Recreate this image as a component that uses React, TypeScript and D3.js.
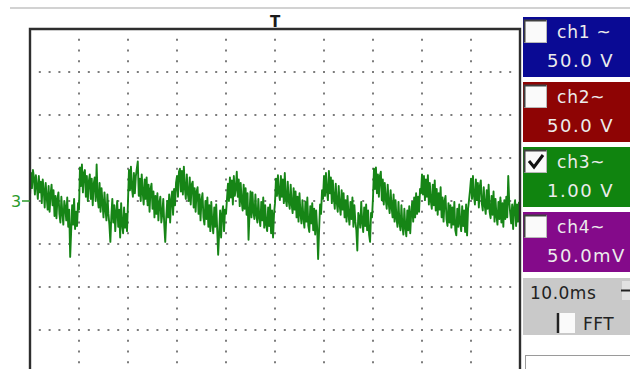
import { useRef, useEffect } from "react";
import * as d3 from "d3";

// ch3 trace, volts (1.00 V/div), one sample every 0.2 ms over 100 ms
const SAMPLE_MS = 0.2;
const CH3_VOLTS = [
  // 0-10 ms
  0.1, 0.65, 0.3, 0.72, 0.55, 0.15, 0.6, 0.35, 0.05, 0.58,
  0.2, 0.45, -0.05, 0.5, 0.25, -0.15, 0.42, 0.1, -0.2, 0.35,
  -0.25, 0.15, 0.38, -0.1, 0.25, -0.35, 0.12, -0.4, 0.05, 0.2,
  -0.3, -0.5, 0.1, -0.28, -0.55, 0.0, -0.15, -0.45, 0.08, -0.6,
  -0.2, -1.3, -0.7, -0.1, -0.55, 0.05, -0.65, -0.25, -0.58, -0.05,
  // 10-20 ms
  -0.2, 0.78, 0.35, 0.85, 0.2, 0.65, 0.72, 0.1, 0.58, 0.0,
  0.45, 0.62, 0.05, 0.52, -0.1, 0.4, 0.55, 0.0, 0.85, 0.1,
  -0.15, 0.42, -0.25, 0.3, -0.05, -0.38, 0.2, -0.2, -0.45, 0.15,
  -0.3, -0.55, -0.95, -0.35, 0.05, -0.5, -0.1, -0.7, -0.25, 0.0,
  -0.6, -0.2, -0.85, -0.05, -0.55, -0.75, -0.15, -0.62, -0.3, -0.7,
  // 20-30 ms
  0.0, 0.72, 0.25, 0.8, 0.3, 0.1, 0.65, 0.18, 0.58, 0.75,
  0.92, 0.12, 0.52, 0.0, 0.62, 0.2, -0.08, 0.5, 0.05, 0.55,
  -0.1, 0.38, -0.25, 0.28, 0.4, -0.18, 0.22, -0.38, 0.12, -0.3,
  0.18, -0.45, -0.05, 0.1, -0.5, -0.3, 0.05, -0.55, -0.95, -0.4,
  0.0, -0.38, 0.15, -0.5, 0.02, 0.22, -0.32, 0.28, -0.1, 0.42,
  // 30-40 ms
  0.58, 0.1, 0.68, 0.75, 0.22, 0.7, 0.15, 0.8, 0.3, 0.05,
  0.62, 0.18, 0.0, 0.55, -0.08, 0.38, 0.45, -0.15, 0.3, -0.25,
  0.22, 0.32, -0.3, 0.15, -0.45, 0.02, 0.18, -0.38, -0.55, 0.0,
  -0.42, 0.08, -0.6, -0.1, -0.7, -0.02, -0.5, -0.75, -0.15, -0.6,
  -0.08, -0.65, -1.25, -0.75, -0.22, -0.85, -0.3, -0.12, -0.7, -0.2,
  // 40-50 ms
  -0.3, 0.05, 0.4, 0.0, 0.55, 0.08, 0.48, -0.08, 0.58, 0.12,
  0.28, 0.68, 0.1, 0.5, -0.12, 0.42, 0.0, -0.22, 0.38, -0.18,
  0.3, -0.32, 0.18, -0.9, -0.28, 0.22, -0.38, 0.2, -0.25, -0.42,
  0.15, -0.32, -0.5, 0.05, -0.38, -0.58, -0.02, -0.45, 0.08, -0.62,
  -0.1, -0.55, -0.7, -0.15, -0.58, -0.08, -0.75, -0.22, -0.85, -0.3,
  // 50-60 ms
  -0.05, 0.52, 0.12, 0.6, 0.18, 0.02, 0.58, 0.1, 0.5, -0.05,
  0.65, 0.05, -0.12, 0.45, 0.0, -0.18, 0.38, -0.08, -0.28, 0.3,
  -0.2, 0.22, -0.38, 0.1, -0.48, 0.18, -0.3, -0.52, 0.02, -0.4,
  -0.62, -0.02, -0.48, 0.08, -0.58, -0.72, -0.12, -0.52, -0.05, -0.68,
  -0.18, -0.78, -0.22, -0.62, -1.35, -0.68, -0.08, -0.3, 0.25, 0.05,
  // 60-70 ms
  0.58, 0.12, 0.65, 0.22, 0.02, 0.7, 0.18, 0.55, -0.05, 0.48,
  0.08, -0.18, 0.4, -0.02, -0.25, 0.35, -0.1, -0.32, 0.25, -0.2,
  0.18, -0.38, 0.02, -0.48, 0.12, -0.32, -0.55, -0.02, -0.42, 0.08,
  -0.6, -0.1, -0.48, -0.68, -1.15, -0.28, -0.38, -0.62, -0.02, -0.5,
  -0.72, -0.15, -0.58, -0.08, -0.68, -0.22, -0.78, -0.95, -0.28, -0.38,
  // 70-80 ms
  0.08, 0.75, 0.28, 0.78, 0.18, 0.62, 0.1, 0.58, 0.68, 0.02,
  0.5, -0.08, 0.42, 0.05, -0.18, 0.38, -0.05, -0.28, 0.25, -0.15,
  -0.38, 0.15, -0.48, 0.02, -0.4, -0.6, -0.02, -0.5, -0.68, -0.1,
  -0.58, -0.78, -0.18, -0.62, -0.82, -0.22, -0.68, -0.12, -0.75, -0.28,
  -0.02, -0.48, 0.08, -0.38, 0.18, -0.3, 0.1, -0.25, 0.28, 0.18,
  // 80-90 ms
  0.62, 0.15, 0.58, 0.02, 0.5, 0.1, 0.6, -0.08, 0.42, 0.0,
  -0.18, 0.38, -0.1, 0.48, -0.22, 0.28, -0.32, 0.18, -0.2, 0.32,
  -0.38, 0.08, -0.48, 0.0, 0.12, -0.42, -0.58, -0.05, -0.5, -0.1,
  -0.62, -0.15, -0.55, -0.02, -0.68, -0.8, -0.18, -0.6, -0.08, -0.52,
  -0.7, -0.12, -0.58, -0.22, -0.72, -0.08, -0.8, -0.18, 0.02, 0.25,
  // 90-100 ms
  0.52, 0.05, 0.58, 0.12, -0.08, 0.5, 0.02, 0.42, -0.15, 0.35,
  0.48, -0.05, -0.22, 0.32, -0.1, -0.3, 0.25, -0.18, 0.38, -0.25,
  -0.4, 0.12, -0.32, 0.22, -0.48, 0.05, -0.35, -0.55, -0.02, -0.42,
  0.08, -0.5, -0.05, -0.6, 0.02, -0.42, 0.1, -0.38, 0.58, -0.02,
  -0.28, -0.52, -0.08, -0.65, -0.15, 0.02, -0.58, -0.08, -0.48, -0.02,
];

const CHANNEL_NAMES = ["ch1 ~", "ch2~", "ch3~", "ch4~"];
const CHANNEL_SCALES = ["50.0 V", "50.0 V", "1.00 V", "50.0mV"];
const CHANNEL_COLORS = ["#0a0a94", "#8e0404", "#10840f", "#840a8a"];
const CHANNEL_ON = [false, false, true, false];
const TIMEBASE = "10.0ms";

const TRACE = "#168516";
const FONT = "'DejaVu Sans', 'Liberation Sans', sans-serif";

export default function App() {
  const svgRef = useRef<SVGSVGElement>(null);

  useEffect(() => {
    if (!svgRef.current) return;
    const svg = d3.select(svgRef.current);
    svg.selectAll("*").remove();

    const left = 30;
    const right = 520;
    const top = 29;
    const bottom = 373;

    const x = d3.scaleLinear().domain([0, 100]).range([left, right]);
    const y = d3.scaleLinear().domain([-4, 4]).range([bottom, top]);

    svg.append("rect").attr("width", 630).attr("height", 369).attr("fill", "#fff");

    // top separator
    svg.append("line")
      .attr("x1", 10).attr("x2", 630).attr("y1", 8).attr("y2", 8)
      .attr("stroke", "#d2d2d2").attr("stroke-width", 2);

    // dotted grid
    const grid = svg.append("g").attr("fill", "#7c7c7c");
    const majorV = d3.range(-3, 4);
    const majorT = d3.range(10, 100, 10);
    const minorT = d3.range(2, 100, 2);
    const minorV = d3.range(-3.75, 4, 0.25);
    majorV.forEach((v) => {
      grid.selectAll(null)
        .data(minorT)
        .join("rect")
        .attr("x", (t) => x(t) - 1)
        .attr("y", y(v) - 1)
        .attr("width", 2)
        .attr("height", 2);
    });
    majorT.forEach((t) => {
      grid.selectAll(null)
        .data(minorV)
        .join("rect")
        .attr("x", x(t) - 1)
        .attr("y", (v) => y(v) - 1)
        .attr("width", 2)
        .attr("height", 2);
    });

    // trace
    const line = d3
      .line<number>()
      .x((_, i) => x(i * SAMPLE_MS))
      .y((v) => y(v));
    svg.append("path")
      .datum(CH3_VOLTS)
      .attr("d", line)
      .attr("fill", "none")
      .attr("stroke", TRACE)
      .attr("stroke-width", 1.9)
      .attr("stroke-linejoin", "round");

    // frame
    svg.append("path")
      .attr("d", `M${left},${bottom}V${top}H${right}V${bottom}`)
      .attr("fill", "none")
      .attr("stroke", "#2e2e2e")
      .attr("stroke-width", 2.4);

    // trigger marker
    svg.append("text")
      .attr("x", x(50))
      .attr("y", 27)
      .attr("text-anchor", "middle")
      .attr("font-family", FONT)
      .attr("font-weight", "bold")
      .attr("font-size", 15)
      .attr("fill", "#1a1a1a")
      .text("T");

    // channel 3 ground marker
    svg.append("text")
      .attr("x", 11)
      .attr("y", y(0) + 6)
      .attr("font-family", FONT)
      .attr("font-size", 16)
      .attr("fill", "#2a9a2a")
      .text("3");
    svg.append("line")
      .attr("x1", 22).attr("x2", left).attr("y1", y(0)).attr("y2", y(0))
      .attr("stroke", "#2a9a2a").attr("stroke-width", 1.5);

    // channel panel
    const px = 523;
    const pitch = 65;
    const boxH = 60;
    const panel = svg.append("g");
    CHANNEL_NAMES.forEach((name, i) => {
      const by = 17 + i * pitch;
      const g = panel.append("g").attr("transform", `translate(${px},${by})`);
      g.append("rect").attr("width", 110).attr("height", boxH).attr("fill", CHANNEL_COLORS[i]);
      g.append("rect")
        .attr("x", 1.5).attr("y", 3.5).attr("width", 22).attr("height", 22)
        .attr("fill", "#fafafa").attr("stroke", "#b8b8b8").attr("stroke-width", 1);
      g.append("path")
        .attr("d", "M1.5,25.5V3.5H23.5")
        .attr("fill", "none").attr("stroke", "#404040").attr("stroke-width", 2);
      if (CHANNEL_ON[i]) {
        g.append("path")
          .attr("d", "M6,14 L11,20 L20,8")
          .attr("fill", "none").attr("stroke", "#111").attr("stroke-width", 3);
      }
      g.append("text")
        .attr("x", 34).attr("y", 21)
        .attr("font-family", FONT).attr("font-size", 17)
        .attr("fill", "#ececec").attr("letter-spacing", 0.8)
        .text(name);
      g.append("text")
        .attr("x", 24).attr("y", 50)
        .attr("font-family", FONT).attr("font-size", 18)
        .attr("fill", "#ececec").attr("letter-spacing", 1.5)
        .text(CHANNEL_SCALES[i]);
    });

    // timebase box
    const tg = panel.append("g").attr("transform", `translate(${px},278)`);
    tg.append("rect").attr("width", 110).attr("height", 57).attr("fill", "#c9c9c9");
    tg.append("text")
      .attr("x", 7).attr("y", 21)
      .attr("font-family", FONT).attr("font-size", 17)
      .attr("fill", "#222").attr("letter-spacing", 0.5)
      .text(TIMEBASE);
    tg.append("rect")
      .attr("x", 36).attr("y", 35).attr("width", 16).attr("height", 20)
      .attr("fill", "#fafafa");
    tg.append("line")
      .attr("x1", 35).attr("x2", 35).attr("y1", 35).attr("y2", 55)
      .attr("stroke", "#222").attr("stroke-width", 2.5);
    tg.append("text")
      .attr("x", 60).attr("y", 52)
      .attr("font-family", FONT).attr("font-size", 17)
      .attr("fill", "#222").attr("letter-spacing", 0.5)
      .text("FFT");
    // spinner
    tg.append("rect").attr("x", 99).attr("y", 3).attr("width", 8).attr("height", 9).attr("fill", "#e2e2e2");
    tg.append("rect").attr("x", 99).attr("y", 13).attr("width", 8).attr("height", 9).attr("fill", "#e2e2e2");
    tg.append("line")
      .attr("x1", 98).attr("x2", 107).attr("y1", 12.5).attr("y2", 12.5)
      .attr("stroke", "#222").attr("stroke-width", 2);

    // lower field
    svg.append("rect")
      .attr("x", 525.5).attr("y", 355.5).attr("width", 110).attr("height", 20)
      .attr("fill", "#fff").attr("stroke", "#9a9a9a");
  }, []);

  return (
    <svg
      ref={svgRef}
      width={630}
      height={369}
      style={{ position: "absolute", left: 0, top: 0 }}
    />
  );
}
